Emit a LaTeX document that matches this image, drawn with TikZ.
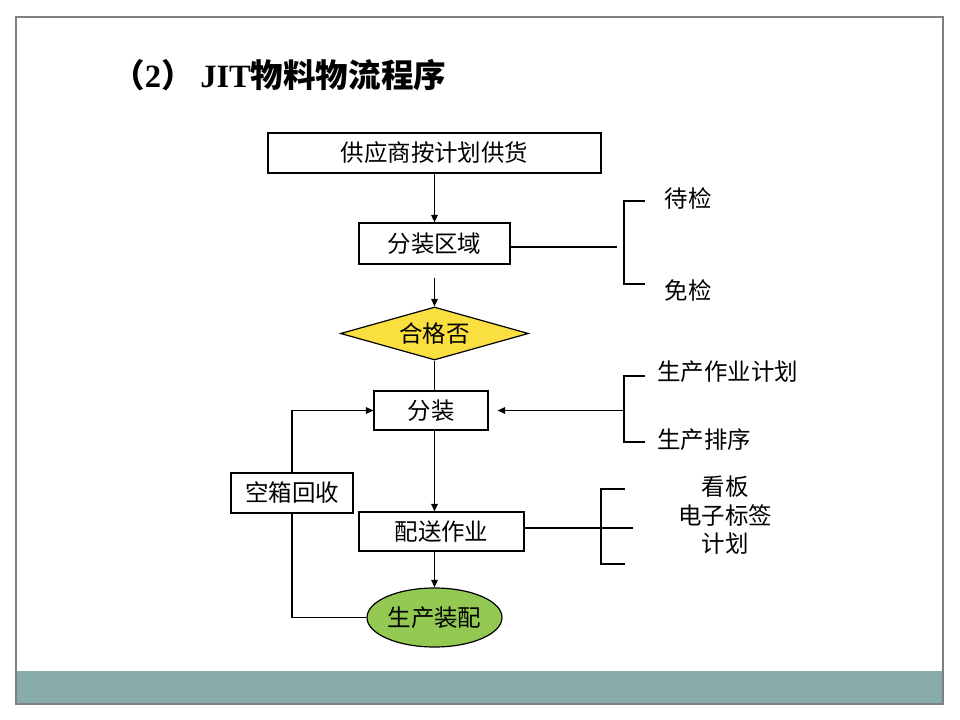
\documentclass[tikz,border=0pt]{standalone}
\usepackage{fontspec}
\setmainfont{Liberation Serif}
\newfontfamily\cjk{Noto Sans CJK SC}
\usetikzlibrary{shapes.geometric,arrows.meta,calc}
\definecolor{framegray}{HTML}{808080}
\definecolor{bandteal}{HTML}{88ACA9}
\definecolor{diayellow}{HTML}{F9E040}
\definecolor{ellgreen}{HTML}{93C953}
\tikzset{
  boxnode/.style={draw=black, line width=0.9pt, fill=white, inner sep=0pt, font=\cjk\fontsize{17.6}{21}\selectfont},
  plaintext/.style={inner sep=0pt, font=\cjk\fontsize{17.6}{21.4}\selectfont},
  conn/.style={draw=black, line width=0.9pt},
  arr/.style={conn, -{Triangle[length=5.6pt, width=4.9pt]}},
}
\begin{document}
\begin{tikzpicture}[x=0.75pt, y=-0.75pt]
\useasboundingbox (0,0) rectangle (960,720);
% slide frame and bottom band
\fill[bandteal] (16,671) rectangle (943,704);
\draw[framegray, line width=1.3pt] (16,17) rectangle (943,704);
% title
\node[anchor=west, inner sep=0pt, font=\fontsize{24.4}{28}\selectfont\bfseries] (title) at (112,75)
  {{\cjk （}2{\cjk ）}\hspace{5pt}JIT{\cjk 物料物流程序}};
% main flow
\node[boxnode, minimum width=249.75pt, minimum height=30pt] (b1) at (434.5,153) {供应商按计划供货};
\node[boxnode, minimum width=113.25pt, minimum height=30.75pt] (b2) at (434.5,243.5) {分装区域};
\node[diamond, draw=black, line width=0.9pt, fill=diayellow, inner sep=0pt, aspect=3.5,
      minimum width=141pt, minimum height=39.75pt, font=\cjk\fontsize{17.6}{21}\selectfont] (d) at (434.5,333.5) {合格否};
\node[boxnode, minimum width=85.5pt, minimum height=29.25pt] (b3) at (431,410.5) {分装};
\node[boxnode, minimum width=123.75pt, minimum height=29.25pt] (b4) at (441.5,531.5) {配送作业};
\node[boxnode, minimum width=91.5pt, minimum height=30pt] (b5) at (292,493) {空箱回收};
\node[ellipse, draw=black, line width=0.9pt, fill=ellgreen, inner sep=0pt,
      minimum width=101.25pt, minimum height=44.25pt, font=\cjk\fontsize{17.6}{21}\selectfont] (e) at (434.5,617.5) {生产装配};
% connectors of the main flow
\draw[arr] (b1.south) -- (b2.north);
\draw[arr, shorten <=9.75pt] (b2.south) -- (d.north);
\draw[conn] (d.south) -- (d.south |- b3.north);
\draw[arr] (d.south |- b3.south) -- (d.south |- b4.north);
\draw[arr] (d.south |- b4.south) -- (e.north);
\draw[conn] (e.west) -| (b5.south);
\draw[arr] (b5.north) |- (b3.west);
% side notes 1
\coordinate (c1end) at (617,247);
\coordinate (k1t) at (645,201);
\coordinate (k1b) at (645,284);
\draw[conn] (b2.east |- c1end) -- (c1end);
\draw[conn] (k1t) -- (624,201) -- (624,284) -- (k1b);
\node[plaintext] (n1) at (688,198) {待检};
\node[plaintext] (n2) at (688,290) {免检};
% side notes 2
\coordinate (k2t) at (645,376);
\coordinate (k2b) at (645,442);
\coordinate (k2m) at (624,410.5);
\draw[conn] (k2t) -- (624,376) -- (624,442) -- (k2b);
\draw[arr, shorten >=6.75pt] (k2m) -- (b3.east);
\node[plaintext, anchor=west] (n3) at (657,372) {生产作业计划};
\node[plaintext, anchor=west] (n4) at (657,440) {生产排序};
% side notes 3
\coordinate (c3end) at (633,528);
\coordinate (k3t) at (625,489);
\coordinate (k3b) at (625,564);
\draw[conn] (b4.east |- c3end) -- (c3end);
\draw[conn] (k3t) -- (601,489) -- (601,564) -- (k3b);
\node[plaintext, align=center] (n5) at (725,515.5) {看板\\电子标签\\计划};
\end{tikzpicture}
\end{document}
